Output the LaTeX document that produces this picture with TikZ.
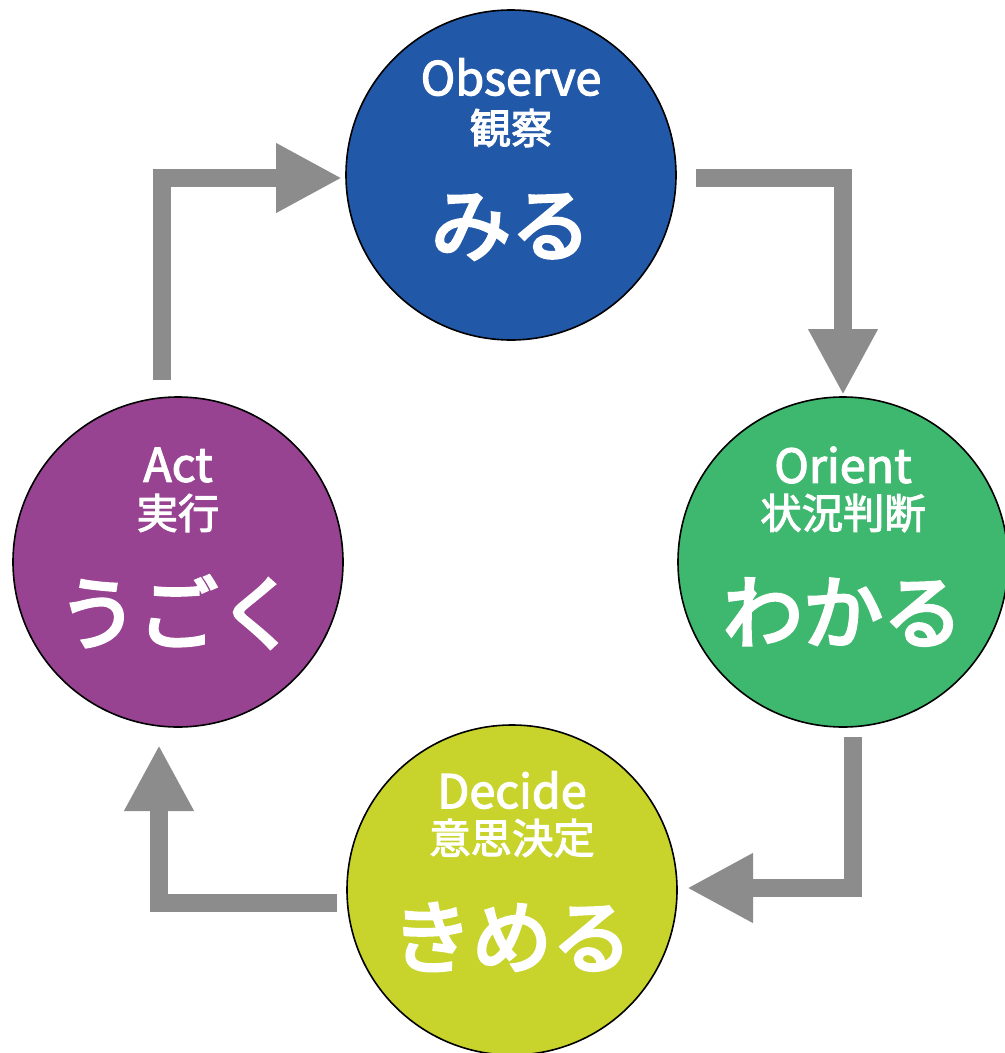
\documentclass[tikz,border=0pt]{standalone}
\usepackage{fontspec}
\setmainfont{Noto Sans CJK JP}
\newfontfamily\enfont[FakeBold=2.5]{Noto Sans CJK JP}
\newfontfamily\kanafont[FakeBold=4]{Noto Sans CJK JP}
\usetikzlibrary{arrows.meta}
\definecolor{obsblue}{RGB}{33,88,168}
\definecolor{origreen}{RGB}{62,184,110}
\definecolor{decyellow}{RGB}{200,212,44}
\definecolor{actpurple}{RGB}{152,66,146}
\definecolor{loopgray}{RGB}{140,140,140}
\tikzstyle{phase}=[circle, draw=black, line width=1.2pt, minimum size=247.5pt, inner sep=0pt]
\tikzstyle{loop}=[draw=loopgray, line width=13.5pt, -{Triangle[width=48.75pt,length=49.5pt]}]
\tikzstyle{entext}=[text=white, inner sep=0pt, font=\enfont\fontsize{35}{38}\selectfont]
\tikzstyle{kanjitext}=[text=white, inner sep=0pt, font=\enfont\fontsize{31}{34}\selectfont]
\tikzstyle{kanatext}=[text=white, inner sep=0pt, font=\kanafont\fontsize{60}{64}\selectfont]

\begin{document}
\begin{tikzpicture}[x=0.75pt, y=-0.75pt]
\useasboundingbox (0,0) rectangle (1004,1053);
% Circles
    \node[phase, fill=obsblue] (obs) at (511,175) {};
    \node[phase, fill=origreen] (ori) at (843,562) {};
    \node[phase, fill=decyellow] (dec) at (512,890) {};
    \node[phase, fill=actpurple] (act) at (178,562) {};
% Labels
    \node[entext] (obs-en) at (511,77) {Observe};
    \node[kanjitext] (obs-jp) at (511,128) {観察};
    \node[kanatext] (obs-kana) at (511,227) {みる};
    \node[entext] (ori-en) at (843,465) {Orient};
    \node[kanjitext] (ori-jp) at (843,513) {状況判断};
    \node[kanatext] (ori-kana) at (843,612) {わかる};
    \node[entext] (dec-en) at (512,790) {Decide};
    \node[kanjitext] (dec-jp) at (512,838) {意思決定};
    \node[kanatext] (dec-kana) at (512,937) {きめる};
    \node[entext] (act-en) at (178,465) {Act};
    \node[kanjitext] (act-jp) at (178,513) {実行};
    \node[kanatext] (act-kana) at (178,612) {うごく};
% Arrow ends and corners
    \coordinate (a1s) at (162,380);
    \coordinate (a1c) at (162,178);
    \coordinate (a1e) at (342,178);
    \coordinate (a2s) at (696,178);
    \coordinate (a2c) at (843,178);
    \coordinate (a2e) at (843,395);
    \coordinate (a3s) at (853,737);
    \coordinate (a3c) at (853,888);
    \coordinate (a3e) at (687,888);
    \coordinate (a4s) at (337,903);
    \coordinate (a4c) at (159,903);
    \coordinate (a4e) at (159,745);
% Arrows
    \draw[loop] (a1s) -- (a1c) -- (a1e);
    \draw[loop] (a2s) -- (a2c) -- (a2e);
    \draw[loop] (a3s) -- (a3c) -- (a3e);
    \draw[loop] (a4s) -- (a4c) -- (a4e);
\end{tikzpicture}
\end{document}
